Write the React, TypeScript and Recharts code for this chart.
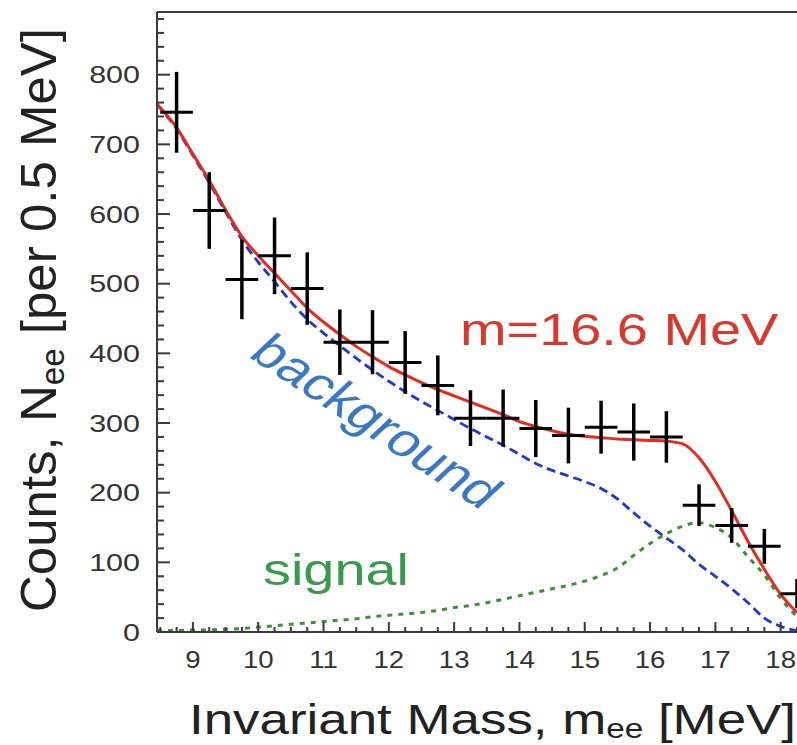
import React from 'react';
import {
  ComposedChart,
  Line,
  Scatter,
  ErrorBar,
  XAxis,
  YAxis,
  ReferenceLine,
} from 'recharts';

// fit curves, sampled every 0.25 MeV (first sample sits on the left frame)
const massGrid = [
  8.45, 8.75, 9, 9.25, 9.5, 9.75, 10, 10.25, 10.5, 10.75,
  11, 11.25, 11.5, 11.75, 12, 12.25, 12.5, 12.75, 13, 13.25,
  13.5, 13.75, 14, 14.25, 14.5, 14.75, 15, 15.25, 15.5, 15.75,
  16, 16.25, 16.5, 16.75, 17, 17.25, 17.5, 17.75, 18, 18.25,
];
const totalFit = [
  758, 724, 686, 648, 606, 568, 540, 515, 490, 465,
  445, 427, 410, 395, 381, 369, 358, 348, 339, 330,
  321, 312, 302, 295, 289, 284, 281, 279, 277, 276,
  275, 274, 270, 250, 216, 174, 130, 90, 54, 28,
];
const backgroundFit = [
  757, 722, 684, 645, 603, 563, 531, 503, 474, 449,
  429, 411, 393, 376, 360, 345, 331, 318, 305, 292,
  280, 268, 255, 242, 232, 224, 216, 206, 191, 171,
  152, 135, 118, 97, 80, 62, 42, 20, 8, 2,
];
const signalFit = [
  2, 2, 3, 3, 4, 5, 7, 9, 11, 13,
  15, 17, 19, 22, 24, 26, 28, 31, 35, 38,
  42, 47, 52, 57, 62, 67, 73, 81, 92, 110,
  127, 141, 152, 157, 150, 135, 108, 82, 48, 22,
];

// measured e+e- pairs, 0.5 MeV bins
const binCenters = [
  8.75, 9.25, 9.75, 10.25, 10.75, 11.25, 11.75, 12.25, 12.75, 13.25,
  13.75, 14.25, 14.75, 15.25, 15.75, 16.25, 16.75, 17.25, 17.75, 18.25,
];
const counts = [
  746, 605, 506, 540, 493, 416, 416, 387, 354, 307,
  307, 292, 282, 294, 287, 280, 182, 153, 123, 55,
];
const countErrors = [
  58, 55, 57, 55, 52, 47, 46, 45, 43, 40,
  41, 41, 40, 38, 41, 37, 30, 25, 25, 21,
];
const binHalfWidth = 0.25;

const xLabels = [9, 10, 11, 12, 13, 14, 15, 16, 17, 18];
const yLabels = [0, 100, 200, 300, 400, 500, 600, 700, 800];

const X_DOMAIN: [number, number] = [8.45, 18.25];
const Y_DOMAIN: [number, number] = [0, 890];

const fitData = massGrid.map((m, i) => ({
  mass: m,
  total: totalFit[i],
  background: backgroundFit[i],
  signal: signalFit[i],
}));

const points = binCenters.map((m, i) => ({
  mass: m,
  count: counts[i],
  err: countErrors[i],
  xErr: binHalfWidth,
}));

// minor ticks every 0.25 MeV / 20 counts
const xTicks = Array.from({ length: 40 }, (_, i) => 8.5 + i * 0.25);
const yTicks = Array.from({ length: 45 }, (_, i) => i * 20);

const FONT = '"Liberation Sans", Arial, Helvetica, sans-serif';
const AXIS = '#3a3a3a';
const STRETCH = 1.27;

// tick marks point into the frame; labels sit outside
const YTick = (props: any) => {
  const x = Number(props.x);
  const y = Number(props.y);
  const v = props.payload.value;
  const major = yLabels.includes(v);
  return (
    <g>
      <rect x={x} y={y - 1} width={major ? 13 : 7} height={2} fill={AXIS} />
      {major && (
        <text
          transform={`translate(${x - 17},${y}) scale(${STRETCH},1)`}
          textAnchor="end"
          dy="0.36em"
          fontSize={24}
          fontFamily={FONT}
          fill="#333"
        >
          {v}
        </text>
      )}
    </g>
  );
};

const XTick = (props: any) => {
  const x = Number(props.x);
  const y = Number(props.y);
  const v = props.payload.value;
  const major = xLabels.includes(v);
  const len = major ? 10 : 5;
  return (
    <g>
      <rect x={x - 1} y={y - len} width={2} height={len} fill={AXIS} />
      {major && (
        <text
          transform={`translate(${x},${y + 36}) scale(1.15,1)`}
          textAnchor="middle"
          fontSize={24}
          fontFamily={FONT}
          fill="#333"
        >
          {v}
        </text>
      )}
    </g>
  );
};

const NoMarker = () => <g />;

export default function App() {
  return (
    <div
      style={{
        position: 'absolute',
        left: 0,
        top: 0,
        width: 797,
        height: 745,
        overflow: 'hidden',
        background: '#fff',
      }}
    >
      <ComposedChart
        width={797}
        height={745}
        data={fitData}
        margin={{ top: 12, right: 0, bottom: 0, left: 0 }}
      >
        <XAxis
          dataKey="mass"
          type="number"
          domain={X_DOMAIN}
          allowDataOverflow
          ticks={xTicks}
          interval={0}
          tickSize={0}
          tickMargin={0}
          tickLine={false}
          tick={<XTick />}
          axisLine={{ stroke: AXIS, strokeWidth: 2 }}
          height={113}
        />
        <YAxis
          type="number"
          domain={Y_DOMAIN}
          allowDataOverflow
          ticks={yTicks}
          interval={0}
          tickSize={0}
          tickMargin={0}
          tickLine={false}
          tick={<YTick />}
          axisLine={{ stroke: AXIS, strokeWidth: 2 }}
          width={157}
        />
        <ReferenceLine y={890} stroke={AXIS} strokeWidth={2} />
        <Line
          type="monotone"
          dataKey="signal"
          stroke="#3f8f3a"
          strokeWidth={3}
          strokeDasharray="5 6"
          dot={false}
          isAnimationActive={false}
        />
        <Line
          type="monotone"
          dataKey="background"
          stroke="#2535d4"
          strokeWidth={2.8}
          strokeDasharray="9 5"
          dot={false}
          isAnimationActive={false}
        />
        <Line
          type="monotone"
          dataKey="total"
          stroke="#e52b21"
          strokeWidth={3}
          dot={false}
          isAnimationActive={false}
        />
        <Scatter data={points} dataKey="count" shape={NoMarker} isAnimationActive={false}>
          <ErrorBar dataKey="err" direction="y" width={0} stroke="#000" strokeWidth={3.5} isAnimationActive={false} />
          <ErrorBar dataKey="xErr" direction="x" width={0} stroke="#000" strokeWidth={3} isAnimationActive={false} />
        </Scatter>
      </ComposedChart>

      <svg
        width={797}
        height={745}
        style={{ position: 'absolute', left: 0, top: 0, pointerEvents: 'none' }}
        fontFamily={FONT}
      >
        <text
          transform={`translate(56,320) scale(${STRETCH},1) rotate(-90)`}
          textAnchor="middle"
          fontSize={40}
          fill="#222"
          textLength={584}
          lengthAdjust="spacingAndGlyphs"
        >
          Counts, N<tspan fontSize={26} dy={6}>ee</tspan>
          <tspan fontSize={40} dy={-6}> [per 0.5 MeV]</tspan>
        </text>
        <text transform="translate(189,734) scale(1.23,1)" fontSize={43} fill="#222">
          Invariant Mass, m<tspan fontSize={27} dy={4}>ee</tspan>
          <tspan fontSize={43} dy={-4}> [MeV]</tspan>
        </text>
        <text transform={`translate(460,345) scale(${STRETCH},1)`} fontSize={44} fill="#d8382e">
          m=16.6 MeV
        </text>
        <text
          transform={`translate(377,421) scale(${STRETCH},1) rotate(40)`}
          textAnchor="middle"
          dy="0.35em"
          fontSize={46}
          fill="#3b78c4"
        >
          background
        </text>
        <text transform={`translate(263,585) scale(${STRETCH},1)`} fontSize={44} fill="#3a9a4c">
          signal
        </text>
      </svg>
    </div>
  );
}
